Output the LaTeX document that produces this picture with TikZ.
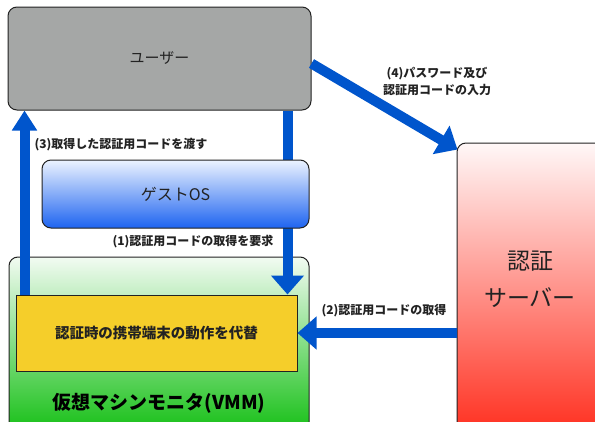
\documentclass[tikz,border=0pt]{standalone}
\usepackage{fontspec}
\setmainfont{Noto Sans CJK JP}
\usetikzlibrary{arrows.meta}
\definecolor{arrowblue}{HTML}{0055CC}
\definecolor{usergray}{HTML}{A5A7A6}
\definecolor{boxline}{HTML}{222222}
\definecolor{labeltext}{HTML}{222222}
\definecolor{yellowfill}{HTML}{F5CE2A}
\tikzset{
  box/.style={draw=boxline, line width=1pt, rounded corners=9pt, inner sep=0pt},
  bigarrow/.style={draw=arrowblue, line width=10pt,
    -{Triangle[width=32pt,length=19pt]}, fill=arrowblue},
  smallhead/.style={-{Triangle[width=24pt,length=20pt]}},
  steplabel/.style={font=\bfseries\fontsize{12}{17}\selectfont, text=labeltext, align=center, inner sep=0pt},
}
\begin{document}
\begin{tikzpicture}[x=1pt,y=-1pt]
\useasboundingbox (0,0) rectangle (595,421);
% boxes drawn below arrows
\node[box, minimum width=300pt, minimum height=180pt,
      top color={rgb,255:red,242;green,251;blue,242}, bottom color={rgb,255:red,16;green,190;blue,16}]
      (vmm) at (159,347) {};
\node[font=\bfseries\fontsize{19}{22}\selectfont, text=black] (vmmlabel) at (159,403) {仮想マシンモニタ(VMM)};
\node[draw=boxline, line width=1pt, fill=yellowfill, minimum width=281pt, minimum height=76pt,
      font=\bfseries\fontsize{14.5}{17}\selectfont, text=labeltext] (yellow) at (156.5,333) {認証時の携帯端末の動作を代替};
\node[box, minimum width=150pt, minimum height=290pt,
      top color=red!3!white, bottom color={rgb,255:red,255;green,48;blue,32}]
      (server) at (532,288) {};
\node[font=\fontsize{23}{37}\selectfont, align=center, text=labeltext] (serverlabel) at (530,279) {認証\\サーバー};
\node[box, fill=usergray, minimum width=303pt, minimum height=103pt,
      font=\fontsize{15}{18}\selectfont, text=labeltext] (user) at (159.5,58.5) {ユーザー};
% arrows
\draw[bigarrow, smallhead] ([xshift=9pt]yellow.north west) -- ([xshift=9pt]yellow.north west |- user.south);
\draw[bigarrow] ([xshift=-24pt]user.south east) -- ([xshift=-24pt]user.south east |- yellow.north);
\draw[bigarrow] ([yshift=-5pt]user.east) -- ([xshift=1pt,yshift=-7pt]server.north west);
\draw[bigarrow] (yellow.east -| server.west) -- (yellow.east);
% guest OS drawn over arrow (1)
\node[box, minimum width=267pt, minimum height=68pt,
      top color={rgb,255:red,236;green,243;blue,255}, bottom color={rgb,255:red,30;green,100;blue,240},
      font=\fontsize{16}{19}\selectfont, text=labeltext] (guest) at (175.5,194) {ゲストOS};
% labels
\node[steplabel] (l4) at (437,81) {(4)パスワード及び\\認証用コードの入力};
\node[steplabel] (l3) at (121,145) {(3)取得した認証用コードを渡す};
\node[steplabel] (l1) at (193,242) {(1)認証用コードの取得を要求};
\node[steplabel] (l2) at (384,311) {(2)認証用コードの取得};
\end{tikzpicture}
\end{document}
